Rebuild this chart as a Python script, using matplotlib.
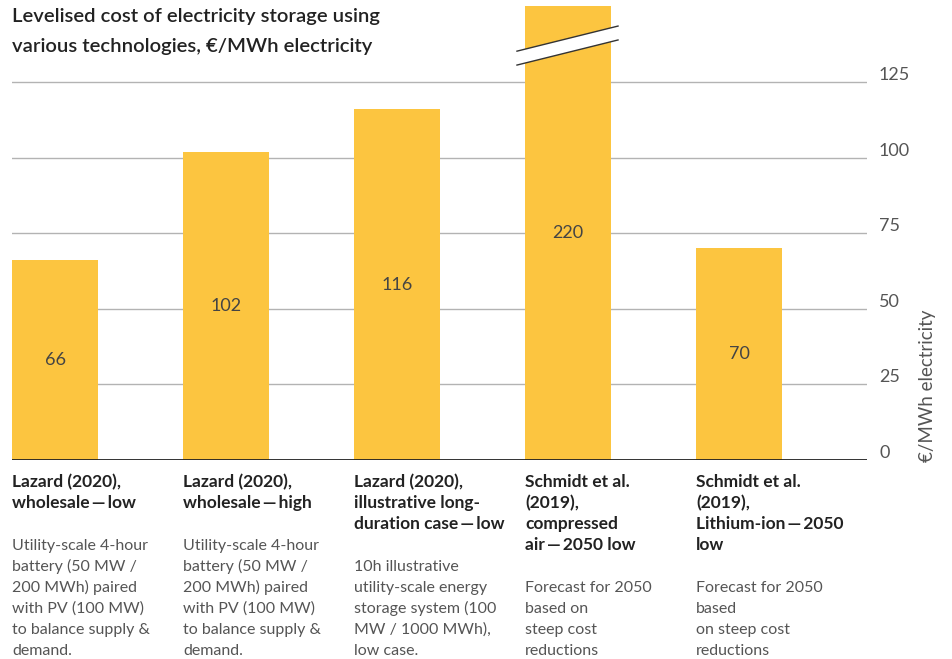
import matplotlib
matplotlib.use("Agg")
import matplotlib.pyplot as plt
from matplotlib.patches import Polygon
from matplotlib.lines import Line2D

plt.rcParams['font.family'] = ['Lato', 'DejaVu Sans']

values = [66, 102, 116, 220, 70]
headers = [
    ["Lazard (2020),", "wholesale\u2009\u2014\u2009low"],
    ["Lazard (2020),", "wholesale\u2009\u2014\u2009high"],
    ["Lazard (2020),", "illustrative long-", "duration case\u2009\u2014\u2009low"],
    ["Schmidt et al.", "(2019),", "compressed", "air\u2009\u2014\u20092050 low"],
    ["Schmidt et al.", "(2019),", "Lithium-ion\u2009\u2014\u20092050", "low"],
]
descriptions = [
    ["Utility-scale 4-hour", "battery (50 MW /", "200 MWh) paired", "with PV (100 MW)", "to balance supply &", "demand."],
    ["Utility-scale 4-hour", "battery (50 MW /", "200 MWh) paired", "with PV (100 MW)", "to balance supply &", "demand."],
    ["10h illustrative", "utility-scale energy", "storage system (100", "MW / 1000 MWh),", "low case."],
    ["Forecast for 2050", "based on", "steep cost", "reductions"],
    ["Forecast for 2050", "based", "on steep cost", "reductions"],
]
yticks = [0, 25, 50, 75, 100, 125]
title_lines = ["Levelised cost of electricity storage using",
               "various technologies, \u20ac/MWh electricity"]
ylabel = "\u20ac/MWh electricity"
cap = 150

W, H = 952, 659
fig = plt.figure(figsize=(W / 100, H / 100), dpi=100)
ax = fig.add_axes([12 / W, (H - 460) / H, (867 - 12) / W, 460 / H])
ax.set_xlim(0, 5)
ax.set_ylim(0, 460 / 3.024)
for s in ax.spines.values():
    s.set_visible(False)
ax.set_xticks([])
ax.set_yticks([])

yellow = "#FCC540"
light = '#555555'
for i, v in enumerate(values):
    h = min(v, cap)
    ax.bar(i, h, width=0.503, align='edge', color=yellow, zorder=2)
    ax.text(i + 0.2515, h / 2, str(v), ha='center', va='center',
            fontsize=13, color='#444444', fontweight='normal', zorder=3)

for t in yticks:
    col = '#222222' if t == 0 else '#b3b3b3'
    lw = 1.3 if t == 0 else 1.0
    ax.axhline(t, color=col, lw=lw, zorder=1 if t else 4)
    ax.annotate(str(t), xy=(1, t), xycoords=('axes fraction', 'data'),
                xytext=(12 * 0.72, 2 * 0.72), textcoords='offset points',
                ha='left', va='baseline', fontsize=13, color=light,
                fontweight='normal')

# axis break marks on truncated bar
x0, x1 = 2.953, 3.544
ya = (135.2, 143.5)
yb = (130.6, 138.9)
poly = Polygon([(x0, ya[0]), (x1, ya[1]), (x1, yb[1]), (x0, yb[0])],
               closed=True, facecolor='white', edgecolor='none', zorder=3)
ax.add_patch(poly)
ax.add_line(Line2D([x0, x1], list(ya), color='#333333', lw=1.0, zorder=4))
ax.add_line(Line2D([x0, x1], list(yb), color='#333333', lw=1.0, zorder=4))

px = 0.72  # points per pixel
step = 21
for i in range(5):
    for k, line in enumerate(headers[i]):
        ax.annotate(line, xy=(i, 0), xycoords='data',
                    xytext=(0, -(27 + k * step) * px), textcoords='offset points',
                    ha='left', va='baseline', fontsize=12.5, color='#222222',
                    fontweight='bold')
    start = 27 + (len(headers[i]) + 1) * step
    for k, line in enumerate(descriptions[i]):
        ax.annotate(line, xy=(i, 0), xycoords='data',
                    xytext=(0, -(start + k * step) * px), textcoords='offset points',
                    ha='left', va='baseline', fontsize=11.5, color=light,
                    fontweight='normal')

fig.text(12 / W, 1 - 22 / H, title_lines[0], ha='left', va='baseline',
         fontsize=14.6, color='#222222', fontweight='semibold')
fig.text(12 / W, 1 - 52 / H, title_lines[1], ha='left', va='baseline',
         fontsize=14.6, color='#222222', fontweight='semibold')

fig.text(928 / W, 1 - 462 / H, ylabel, rotation=90, ha='center', va='bottom',
         fontsize=13.5, color=light, fontweight='normal')

fig.savefig("out.png", dpi=100)
